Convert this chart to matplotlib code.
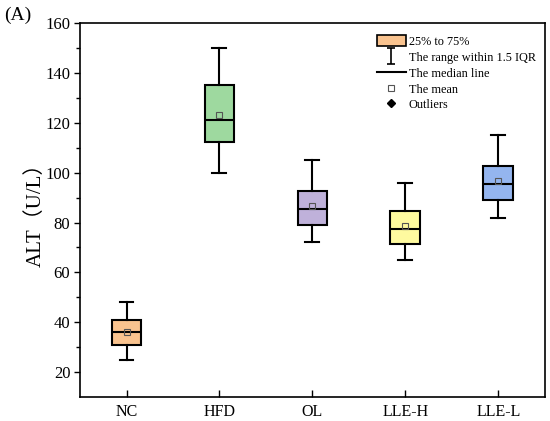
import numpy as np
import matplotlib.pyplot as plt
from matplotlib.patches import Patch
from matplotlib.lines import Line2D
from matplotlib.path import Path

groups = ['NC', 'HFD', 'OL', 'LLE-H', 'LLE-L']
whis_low = [25, 100, 72, 65, 82]
q1 = [31, 112.5, 79, 71.5, 89]
median = [36, 121, 85.5, 77.5, 95.5]
mean = [36.2, 123.3, 86.5, 78.6, 96.6]
q3 = [41, 135, 92.5, 84.5, 102.5]
whis_high = [48, 150, 105, 96, 115]
colors = ['#F9C38F', '#9ED99F', '#BFB1DA', '#FEFA9F', '#94B5EF']

plt.rcParams['font.family'] = ['Liberation Serif', 'Noto Sans CJK SC']

fig = plt.figure(figsize=(5.5, 4.21), dpi=100)
ax = fig.add_axes([0.1455, 0.057, 0.845, 0.888])

stats = []
for i in range(len(groups)):
    stats.append({'whislo': whis_low[i], 'q1': q1[i], 'med': median[i],
                  'mean': mean[i], 'q3': q3[i], 'whishi': whis_high[i],
                  'fliers': [], 'label': groups[i]})

bp = ax.bxp(stats, positions=range(1, 6), widths=0.32, patch_artist=True,
            showmeans=True, showfliers=False,
            boxprops=dict(linewidth=1.5, edgecolor='black'),
            whiskerprops=dict(linewidth=1.5, color='black'),
            capprops=dict(linewidth=1.5, color='black'),
            medianprops=dict(linewidth=1.5, color='black'),
            meanprops=dict(marker='s', markersize=4, markerfacecolor='none',
                           markeredgecolor='#555555', markeredgewidth=0.8),
            capwidths=0.15)
for patch, c in zip(bp['boxes'], colors):
    patch.set_facecolor(c)

ax.set_xlim(0.5, 5.5)
ax.set_ylim(10, 160)
ax.set_yticks([20, 40, 60, 80, 100, 120, 140, 160])
ax.set_yticks(np.arange(30, 160, 20), minor=True)
ax.tick_params(axis='y', which='major', direction='out', length=4, width=1, labelsize=12, pad=3)
ax.tick_params(axis='y', which='minor', direction='out', length=3, width=1)
ax.tick_params(axis='x', which='major', direction='in', length=5, width=1, labelsize=11.5, pad=5)
for s in ax.spines.values():
    s.set_linewidth(1.2)

ax.set_ylabel('ALT（U/L）', fontsize=15, labelpad=0)
fig.text(0.008, 0.985, '(A)', fontsize=14, va='top', ha='left')

ibeam = Path([(-0.5, 1), (0.5, 1), (0, 1), (0, -1), (-0.5, -1), (0.5, -1)],
             [Path.MOVETO, Path.LINETO, Path.MOVETO, Path.LINETO, Path.MOVETO, Path.LINETO])
handles = [
    Patch(facecolor=colors[0], edgecolor='black', linewidth=1.2),
    Line2D([], [], linestyle='none', marker=ibeam, markersize=11,
           markerfacecolor='none', markeredgecolor='black', markeredgewidth=1.2),
    Line2D([], [], color='black', linewidth=1.5),
    Line2D([], [], linestyle='none', marker='s', markersize=4,
           markerfacecolor='none', markeredgecolor='#555555', markeredgewidth=0.8),
    Line2D([], [], linestyle='none', marker='D', markersize=4, color='black'),
]
labels = ['25% to 75%', 'The range within 1.5 IQR', 'The median line',
          'The mean', 'Outliers']
ax.legend(handles, labels, loc='upper left', bbox_to_anchor=(377 / 550, 1 - 35 / 421),
          bbox_transform=fig.transFigure, frameon=False, fontsize=8.8,
          handlelength=2.35, handleheight=1.05, handletextpad=0.25,
          labelspacing=0.25, borderpad=0, borderaxespad=0)

fig.savefig('out.png', dpi=100)
